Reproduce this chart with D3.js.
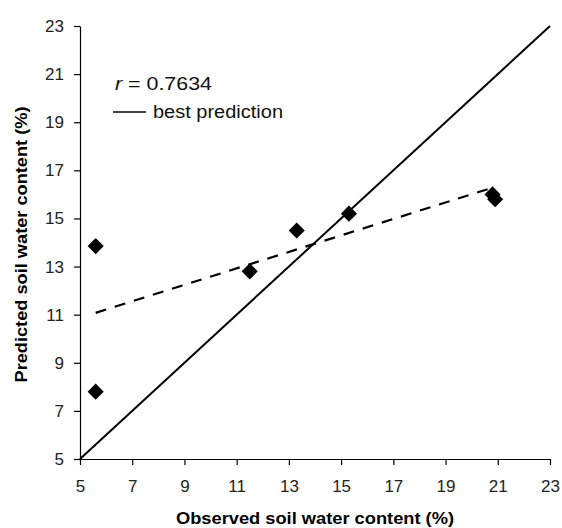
<!DOCTYPE html>
<html>
<head>
<meta charset="utf-8">
<script src="https://cdn.jsdelivr.net/npm/d3@7"></script>
<style>
  body { margin: 0; background: #fff; }
  text { font-family: "Liberation Sans", Arial, sans-serif; }
</style>
</head>
<body>
<svg id="chart"></svg>
<script>
const width = 562, height = 528;

// observed vs predicted soil water content (%)
const observed = [5.6, 5.6, 11.5, 13.3, 15.3, 20.8, 20.9];
const predicted = [13.85, 7.8, 12.8, 14.5, 15.2, 16.0, 15.8];
const tickValues = [5, 7, 9, 11, 13, 15, 17, 19, 21, 23];
const bestLine = [5, 23];
const rLabel = "0.7634";

const svg = d3.select("#chart").attr("width", width).attr("height", height);

const x = d3.scaleLinear().domain([5, 23]).range([80, 550]);
const y = d3.scaleLinear().domain([5, 23]).range([459, 26]);

// axes
const xAxis = svg.append("g")
  .attr("transform", `translate(0,${y(5)})`)
  .call(d3.axisBottom(x).tickValues(tickValues).tickSize(6).tickSizeOuter(0).tickPadding(15));
const yAxis = svg.append("g")
  .attr("transform", `translate(${x(5)},0)`)
  .call(d3.axisLeft(y).tickValues(tickValues).tickSize(6).tickSizeOuter(0).tickPadding(10));

[xAxis, yAxis].forEach(g => {
  g.select(".domain").attr("stroke", "#000").attr("stroke-width", 1.2);
  g.selectAll(".tick line").attr("stroke", "#000").attr("stroke-width", 1.2);
  g.selectAll(".tick text")
    .style("font-size", "17px")
    .style("font-family", "'Liberation Sans', Arial, sans-serif")
    .attr("fill", "#222");
});

// best prediction 1:1 line
svg.append("line")
  .attr("x1", x(bestLine[0])).attr("y1", y(bestLine[0]))
  .attr("x2", x(bestLine[1])).attr("y2", y(bestLine[1]))
  .attr("stroke", "#000").attr("stroke-width", 2);

// linear trendline (least squares fit of the points)
const mx = d3.mean(observed), my = d3.mean(predicted);
const sxy = d3.sum(observed, (v, i) => (v - mx) * (predicted[i] - my));
const sxx = d3.sum(observed, v => (v - mx) ** 2);
const slope = sxy / sxx, icpt = my - slope * mx;
const [x0, x1] = d3.extent(observed);
svg.append("line")
  .attr("x1", x(x0)).attr("y1", y(icpt + slope * x0))
  .attr("x2", x(x1)).attr("y2", y(icpt + slope * x1))
  .attr("stroke", "#000").attr("stroke-width", 2.2)
  .attr("stroke-dasharray", "11,9");

// diamonds
const diamond = d3.symbol().type(d3.symbolSquare).size(130);
svg.append("g").selectAll("path")
  .data(observed)
  .join("path")
  .attr("d", diamond)
  .attr("transform", (d, i) => `translate(${x(d)},${y(predicted[i])}) rotate(45)`)
  .attr("fill", "#000");

// legend
const rText = svg.append("text")
  .attr("x", 115).attr("y", 90)
  .attr("textLength", 97).attr("lengthAdjust", "spacingAndGlyphs")
  .style("font-size", "18px").attr("fill", "#111");
rText.append("tspan").style("font-style", "italic").text("r");
rText.append("tspan").text(" = " + rLabel);

svg.append("line")
  .attr("x1", 113).attr("x2", 146).attr("y1", 112).attr("y2", 112)
  .attr("stroke", "#000").attr("stroke-width", 1.3);
svg.append("text")
  .attr("x", 153).attr("y", 118)
  .attr("textLength", 130).attr("lengthAdjust", "spacingAndGlyphs")
  .style("font-size", "18px").attr("fill", "#111")
  .text("best prediction");

// axis titles
svg.append("text")
  .attr("x", (x(5) + x(23)) / 2).attr("y", 524)
  .attr("text-anchor", "middle")
  .attr("textLength", 278).attr("lengthAdjust", "spacingAndGlyphs")
  .style("font-size", "17px").style("font-weight", "bold")
  .text("Observed soil water content (%)");

svg.append("text")
  .attr("transform", `translate(27,${(y(5) + y(23)) / 2 + 2}) rotate(-90)`)
  .attr("text-anchor", "middle")
  .attr("textLength", 276).attr("lengthAdjust", "spacingAndGlyphs")
  .style("font-size", "17px").style("font-weight", "bold")
  .text("Predicted soil water content (%)");
</script>
</body>
</html>
